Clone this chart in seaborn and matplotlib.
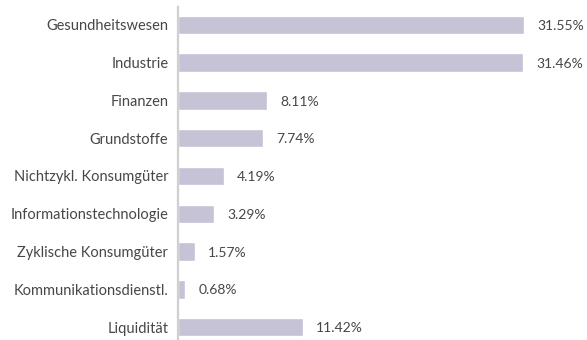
import matplotlib
matplotlib.use("Agg")
import matplotlib.pyplot as plt
import seaborn as sns
import pandas as pd

sectors = ["Gesundheitswesen", "Industrie", "Finanzen", "Grundstoffe",
           "Nichtzykl. Konsumgüter", "Informationstechnologie",
           "Zyklische Konsumgüter", "Kommunikationsdienstl.", "Liquidität"]
weights = [31.55, 31.46, 8.11, 7.74, 4.19, 3.29, 1.57, 0.68, 11.42]
value_labels = ["31.55%", "31.46%", "8.11%", "7.74%", "4.19%", "3.29%",
                "1.57%", "0.68%", "11.42%"]

df = pd.DataFrame({"sector": sectors, "weight": weights})

sns.set_theme(style="white")
plt.rcParams["font.family"] = ["Lato", "DejaVu Sans"]

W, H = 587, 340
fig = plt.figure(figsize=(W / 100, H / 100), dpi=100)
ax = fig.add_axes([178 / W, 0.0, 1 - 178 / W, 1 - 7 / H])

bar_color = "#c5c3d5"
text_color = "#474747"

sns.barplot(data=df, x="weight", y="sector", orient="h", color=bar_color,
            width=0.49, ax=ax, saturation=1)

px_per_unit = 346 / 31.55
ax.set_xlim(0, (W - 178) / px_per_unit)
spacing = 37.9
ax.set_ylim(8 + 13 / spacing, -18 / spacing)

for i, (w, lab) in enumerate(zip(weights, value_labels)):
    ax.text(w + 13 / px_per_unit, i + 0.03, lab, va="center", ha="left",
            fontsize=10, color=text_color)

for s in ["top", "right", "bottom"]:
    ax.spines[s].set_visible(False)
ax.spines["left"].set_color("#d0d0d0")
ax.spines["left"].set_linewidth(1.6)

ax.set_xticks([])
ax.set_xlabel("")
ax.set_ylabel("")
ax.tick_params(axis="y", length=0, pad=7)
for t in ax.get_yticklabels():
    t.set_fontsize(10.5)
    t.set_color(text_color)

fig.savefig("out.png", dpi=100)
